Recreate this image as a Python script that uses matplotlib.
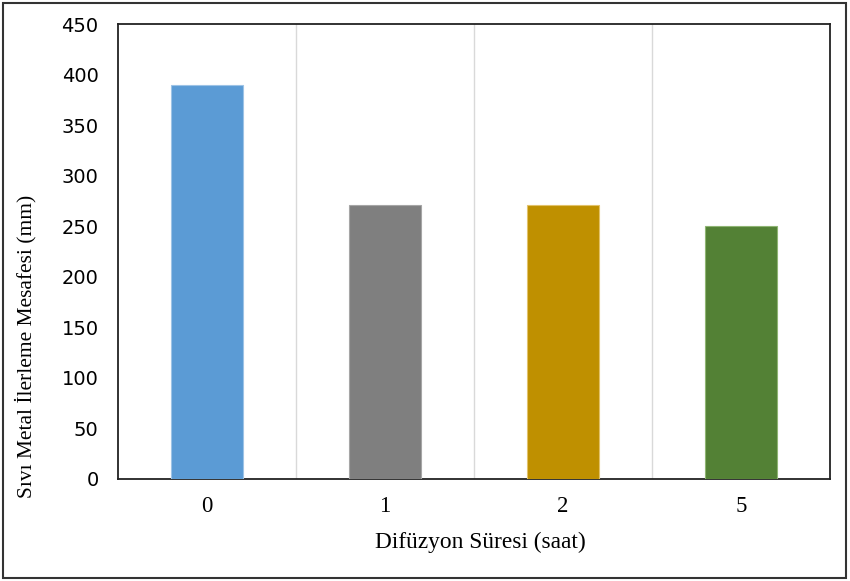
import matplotlib.pyplot as plt
from matplotlib.patches import Rectangle

categories = ["0", "1", "2", "5"]
values = [390, 271, 271, 250]
colors = ["#5B9BD5", "#7F7F7F", "#BF9000", "#538135"]
edge_colors = ["#9DC3E6", "#A6A6A6", "#E2C26A", "#8FB573"]

fig = plt.figure(figsize=(8.5, 5.81), dpi=100)
ax = fig.add_axes([118 / 850, 1 - 479 / 581, (830 - 118) / 850, (479 - 24) / 581])

x = list(range(len(categories)))
ax.bar(x, values, width=0.4, color=colors, edgecolor=edge_colors, linewidth=0.8, zorder=3)

ax.set_xlim(-0.5, len(categories) - 0.5)
ax.set_ylim(0, 450)
ax.set_yticks(range(0, 451, 50))
ax.set_xticks(x)
ax.set_xticklabels(categories, family="Liberation Serif", fontsize=16.5)
for lab in ax.get_yticklabels():
    lab.set_family("DejaVu Sans")
    lab.set_fontsize(14)
ax.tick_params(length=0, pad=14)
ax.tick_params(axis="x", pad=12)

# separators between categories
for b in [0.5, 1.5, 2.5]:
    ax.axvline(b, color="#D9D9D9", linewidth=1, zorder=1)

for s in ax.spines.values():
    s.set_color("#222222")
    s.set_linewidth(1.3)

fig.text(480 / 850, 1 - 542 / 581, "Difüzyon Süresi (saat)", family="Liberation Serif",
         fontsize=16.8, ha="center", va="center")
fig.text(26 / 850, 1 - 346 / 581, "Sıvı Metal İlerleme Mesafesi (mm)", family="Liberation Serif",
         fontsize=15.4, rotation=90, ha="center", va="center")

fig.patches.append(Rectangle((3 / 850, 3 / 581), 843 / 850, 575 / 581, transform=fig.transFigure,
                             fill=False, edgecolor="#333333", linewidth=1.5))

fig.savefig("out.png", dpi=100)
